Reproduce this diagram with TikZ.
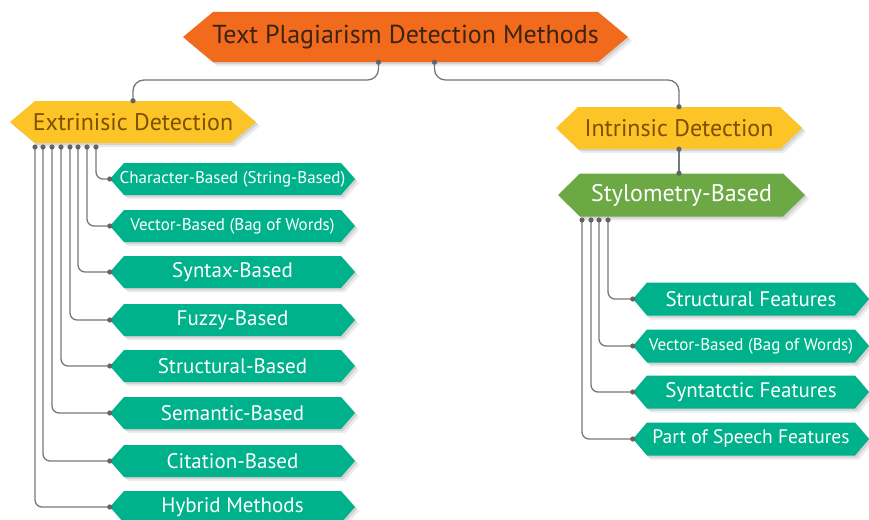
\documentclass[tikz,border=0pt]{standalone}
\usepackage{fontspec}
\setmainfont{PT Sans}
\definecolor{rootc}{RGB}{242,107,29}
\definecolor{yelc}{RGB}{253,196,40}
\definecolor{grnc}{RGB}{108,168,68}
\definecolor{tealc}{RGB}{0,178,140}
\definecolor{roottxt}{RGB}{60,36,20}
\definecolor{yeltxt}{RGB}{125,80,0}
\definecolor{linec}{RGB}{120,120,120}
\definecolor{dotcol}{RGB}{100,100,100}
% #1 name, #2 x, #3 y, #4 full width, #5 height, #6 tip depth, #7 fill, #8 text style, #9 text
\newcommand\hexbox[9]{%
  \fill[black,opacity=0.08] ({#2-#4/2+4},{#3+4}) -- ({#2-#4/2+#6+4},{#3-#5/2+4}) -- ({#2+#4/2-#6+4},{#3-#5/2+4}) -- ({#2+#4/2+4},{#3+4}) -- ({#2+#4/2-#6+4},{#3+#5/2+4}) -- ({#2-#4/2+#6+4},{#3+#5/2+4}) -- cycle;
  \fill[black,opacity=0.10] ({#2-#4/2+2},{#3+2}) -- ({#2-#4/2+#6+2},{#3-#5/2+2}) -- ({#2+#4/2-#6+2},{#3-#5/2+2}) -- ({#2+#4/2+2},{#3+2}) -- ({#2+#4/2-#6+2},{#3+#5/2+2}) -- ({#2-#4/2+#6+2},{#3+#5/2+2}) -- cycle;
  \fill[#7] ({#2-#4/2},{#3}) -- ({#2-#4/2+#6},{#3-#5/2}) -- ({#2+#4/2-#6},{#3-#5/2}) -- ({#2+#4/2},{#3}) -- ({#2+#4/2-#6},{#3+#5/2}) -- ({#2-#4/2+#6},{#3+#5/2}) -- cycle;
  \node[#8, minimum width=#4pt, minimum height=#5pt, inner sep=0pt] (#1) at (#2,#3) {#9};
}
\begin{document}
\begin{tikzpicture}[x=1pt,y=-1pt,
  conn/.style={draw=linec, line width=1.3pt, rounded corners=7pt},
  roottext/.style={text=roottxt, font=\fontsize{26}{30}\selectfont},
  yeltext/.style={text=yeltxt, font=\fontsize{24}{28}\selectfont},
  grntext/.style={text=white, font=\fontsize{24}{28}\selectfont},
  bigtext/.style={text=white, font=\fontsize{21}{25}\selectfont},
  midtext/.style={text=white, font=\fontsize{19.5}{23}\selectfont},
  smalltext/.style={text=white, font=\fontsize{17}{20}\selectfont}]
\useasboundingbox (0,0) rectangle (869,519);
\clip (0,0) rectangle (869,519);
\fill[white] (0,0) rectangle (869,519);

\hexbox{root}{405.5}{37}{445}{50}{30}{rootc}{roottext}{Text Plagiarism Detection Methods}
\hexbox{ext}{133}{122}{246}{42}{25}{yelc}{yeltext}{Extrinisic Detection}
\hexbox{intr}{679}{128}{246}{42}{22}{yelc}{yeltext}{Intrinsic Detection}
\hexbox{sty}{681.5}{195}{247}{43}{22}{grnc}{grntext}{Stylometry-Based}

\hexbox{c1}{232.5}{179}{245}{32}{14}{tealc}{smalltext}{Character-Based (String-Based)}
\hexbox{c2}{232.5}{226}{245}{32}{14}{tealc}{smalltext}{Vector-Based (Bag of Words)}
\hexbox{c3}{232.5}{272}{245}{32}{14}{tealc}{bigtext}{Syntax-Based}
\hexbox{c4}{232.5}{320}{245}{32}{14}{tealc}{bigtext}{Fuzzy-Based}
\hexbox{c5}{232.5}{366}{245}{32}{14}{tealc}{bigtext}{Structural-Based}
\hexbox{c6}{232.5}{413}{245}{32}{14}{tealc}{bigtext}{Semantic-Based}
\hexbox{c7}{232.5}{461}{245}{32}{14}{tealc}{bigtext}{Citation-Based}
\hexbox{c8}{232.5}{507}{245}{32}{14}{tealc}{bigtext}{Hybrid Methods}

\hexbox{s1}{751}{299}{236}{33}{14}{tealc}{bigtext}{Structural Features}
\hexbox{s2}{751}{346}{236}{33}{14}{tealc}{smalltext}{Vector-Based (Bag of Words)}
\hexbox{s3}{751}{392}{236}{33}{14}{tealc}{bigtext}{Syntatctic Features}
\hexbox{s4}{751}{439}{236}{33}{14}{tealc}{midtext}{Part of Speech Features}

% root connectors
\coordinate (r1) at ([xshift=-27pt]root.south);
\coordinate (r2) at ([xshift=29pt]root.south);
\coordinate (lev) at (0,80);
\draw[conn, rounded corners=11pt] (r1) |- (lev -| ext.north) -- (ext.north);
\draw[conn, rounded corners=11pt] (r2) |- (lev -| intr.north) -- (intr.north);
\coordinate (stop) at (intr.south |- sty.north);
\draw[conn] (intr.south) -- (stop);
\foreach \p in {r1,r2,ext.north,intr.north,intr.south,stop}
  \fill[dotcol] (\p) circle (2.6pt);

% extrinsic children
\coordinate (e1) at (96,147);
\coordinate (e2) at (87,147);
\coordinate (e3) at (78,147);
\coordinate (e4) at (70,147);
\coordinate (e5) at (61,147);
\coordinate (e6) at (52,147);
\coordinate (e7) at (43,147);
\coordinate (e8) at (35,147);
\foreach \i in {1,...,8}{
  \draw[conn, rounded corners=7pt] (e\i) |- (c\i.west);
  \fill[dotcol] (e\i) circle (2.6pt);
  \fill[dotcol] (c\i.west) circle (2.6pt);
}

% stylometry children
\coordinate (t1) at (608,220);
\coordinate (t2) at (599,220);
\coordinate (t3) at (591,220);
\coordinate (t4) at (582,220);
\foreach \i in {1,...,4}{
  \draw[conn, rounded corners=7pt] (t\i) |- (s\i.west);
  \fill[dotcol] (t\i) circle (2.6pt);
  \fill[dotcol] (s\i.west) circle (2.6pt);
}
\end{tikzpicture}
\end{document}
